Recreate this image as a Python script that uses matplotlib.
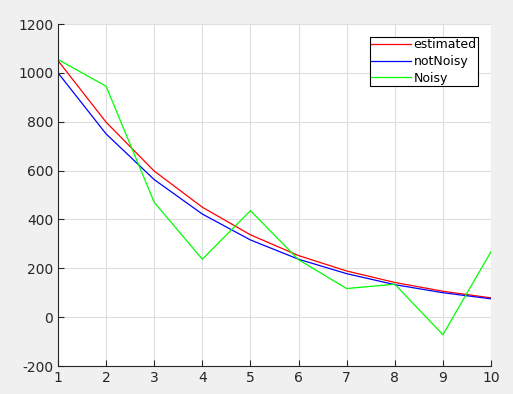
import matplotlib
matplotlib.use("Agg")
import matplotlib.pyplot as plt

plt.rcParams['axes.unicode_minus'] = False

x = [1, 2, 3, 4, 5, 6, 7, 8, 9, 10]
estimated = [1050, 798, 598, 450, 337, 252, 189, 142, 106, 79]
notNoisy = [1000, 750, 563, 422, 316, 237, 178, 133, 100, 75]
noisy = [1055, 945, 470, 237, 436, 235, 117, 135, -72, 268]

fig = plt.figure(figsize=(5.13, 3.94), dpi=100, facecolor='#f0f0f0')
ax = fig.add_axes([58/513, 28/394, 433/513, 342/394])
ax.set_facecolor('white')

ax.plot(x, estimated, color=(1, 0, 0), lw=0.9, label='estimated')
ax.plot(x, notNoisy, color=(0, 0, 1), lw=0.9, label='notNoisy')
ax.plot(x, noisy, color=(0, 1, 0), lw=0.9, label='Noisy')

ax.set_xlim(1, 10)
ax.set_ylim(-200, 1200)
ax.set_xticks(range(1, 11))
ax.set_yticks(range(-200, 1201, 200))
ax.grid(True, color='#dedede', lw=0.8)
ax.set_axisbelow(True)

for s in ['top', 'right']:
    ax.spines[s].set_visible(False)
for s in ['left', 'bottom']:
    ax.spines[s].set_color('#262626')
    ax.spines[s].set_linewidth(0.8)
ax.tick_params(direction='in', length=4, width=0.8, colors='#262626', labelsize=10)

leg = ax.legend(loc='upper right', bbox_to_anchor=(0.970, 0.962), fontsize=9,
                fancybox=False, framealpha=1, edgecolor='black', handlelength=3.2,
                handletextpad=0.2, borderpad=0.1, labelspacing=0.3, borderaxespad=0)
leg.get_frame().set_linewidth(0.8)

fig.savefig('out.png', dpi=100, facecolor=fig.get_facecolor())
